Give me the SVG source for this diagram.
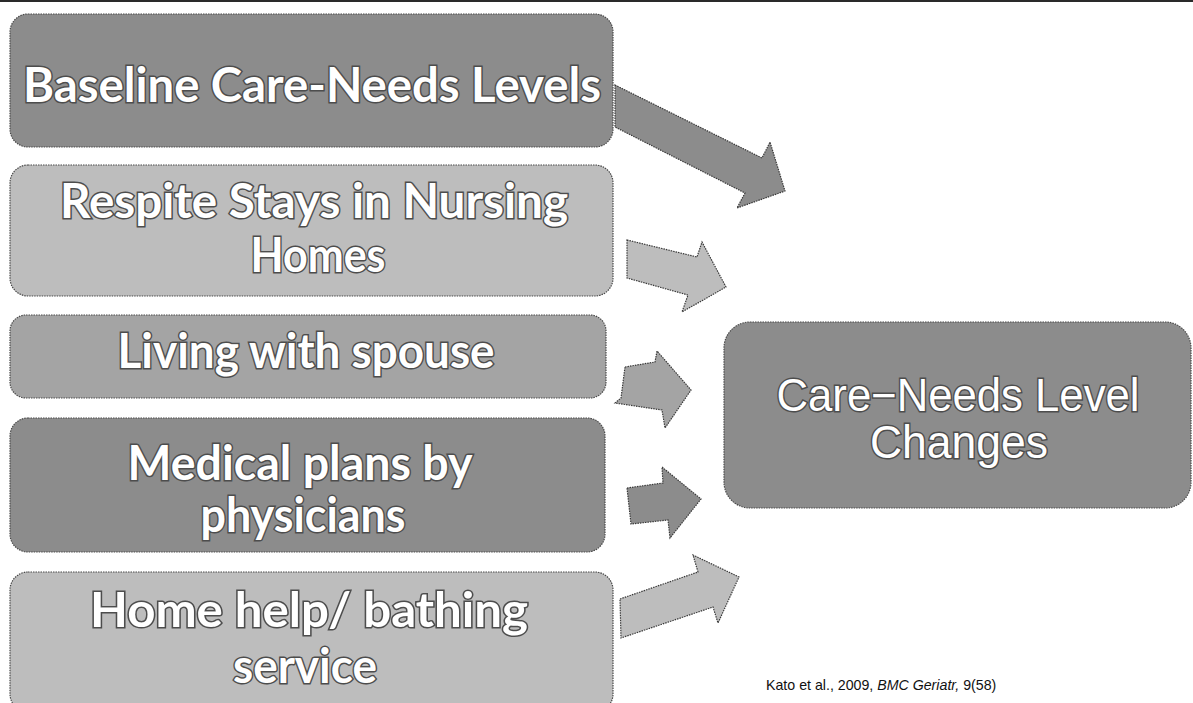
<svg xmlns="http://www.w3.org/2000/svg" width="1193" height="703" viewBox="0 0 1193 703">
<style>
.box{stroke:#4a4a4a;stroke-width:1.2;stroke-dasharray:1.5 1}
.dark{fill:#8c8c8c}
.mid{fill:#a4a4a4}
.light{fill:#bdbdbd}
.lbl{font-family:Lato,"Open Sans","Liberation Sans",sans-serif;font-weight:bold;font-size:47px;fill:#ffffff;stroke:#4d4d4d;stroke-width:3;paint-order:stroke;text-anchor:middle}
.lblj{font-family:"Liberation Sans","Noto Sans CJK JP",sans-serif;font-size:46px;fill:#ffffff;stroke:#4d4d4d;stroke-width:3;paint-order:stroke;text-anchor:middle}
.arr{stroke:#3a3a3a;stroke-width:1.2;stroke-dasharray:1.5 1}
.note{font-family:"Liberation Sans",Arial,sans-serif;font-size:14.2px;fill:#111}
</style>
<rect x="0" y="0" width="1193" height="2" fill="#2a2a2a"/>
<g id="connectors">
<polygon class="arr dark" points="615,85 762,158 770,142 785,191 737,208 745,193 615,127"/>
<polygon class="arr light" points="627,240 697,257 702,242 726,287 682,312 688,295 627,278"/>
<polygon class="arr mid" points="625,367 655,362 657,351 691,390 665,428 662,410 615,403 621,398"/>
<polygon class="arr dark" points="627,488 663,483 662,467 701,499 670,538 668,520 631,524"/>
<polygon class="arr light" points="620,599 698,572 693,555 739,577 718,623 713,607 621,638"/>
</g>
<g id="n-baseline">
<rect class="box dark" x="10" y="14" width="603" height="133" rx="18"/>
<text class="lbl" x="312" y="102" textLength="578" lengthAdjust="spacingAndGlyphs">Baseline Care-Needs Levels</text>
</g>
<g id="n-respite">
<rect class="box light" x="10" y="165" width="603" height="131" rx="18"/>
<text class="lbl" x="314" y="218" textLength="508" lengthAdjust="spacingAndGlyphs">Respite Stays in Nursing</text>
<text class="lbl" x="318" y="272" textLength="135" lengthAdjust="spacingAndGlyphs">Homes</text>
</g>
<g id="n-spouse">
<rect class="box mid" x="10" y="315" width="596" height="83" rx="16"/>
<text class="lbl" x="306" y="368" textLength="377" lengthAdjust="spacingAndGlyphs">Living with spouse</text>
</g>
<g id="n-medical">
<rect class="box dark" x="10" y="418" width="595" height="134" rx="18"/>
<text class="lbl" x="300" y="480" textLength="345" lengthAdjust="spacingAndGlyphs">Medical plans by</text>
<text class="lbl" x="303" y="532" textLength="205" lengthAdjust="spacingAndGlyphs">physicians</text>
</g>
<g id="n-homehelp">
<rect class="box light" x="10" y="572" width="603" height="140" rx="18"/>
<text class="lbl" x="309" y="627" textLength="438" lengthAdjust="spacingAndGlyphs">Home help/ bathing</text>
<text class="lbl" x="305" y="683" textLength="144" lengthAdjust="spacingAndGlyphs">service</text>
</g>
<g id="n-changes">
<rect class="box dark" x="724" y="322" width="467" height="186" rx="26"/>
<text class="lblj" x="958" y="411" textLength="363" lengthAdjust="spacingAndGlyphs">Care−Needs Level</text>
<text class="lblj" x="959" y="458" textLength="178" lengthAdjust="spacingAndGlyphs">Changes</text>
</g>
<text class="note" x="766" y="690">Kato et al., 2009, <tspan font-style="italic">BMC Geriatr,</tspan> 9(58)</text>
</svg>
